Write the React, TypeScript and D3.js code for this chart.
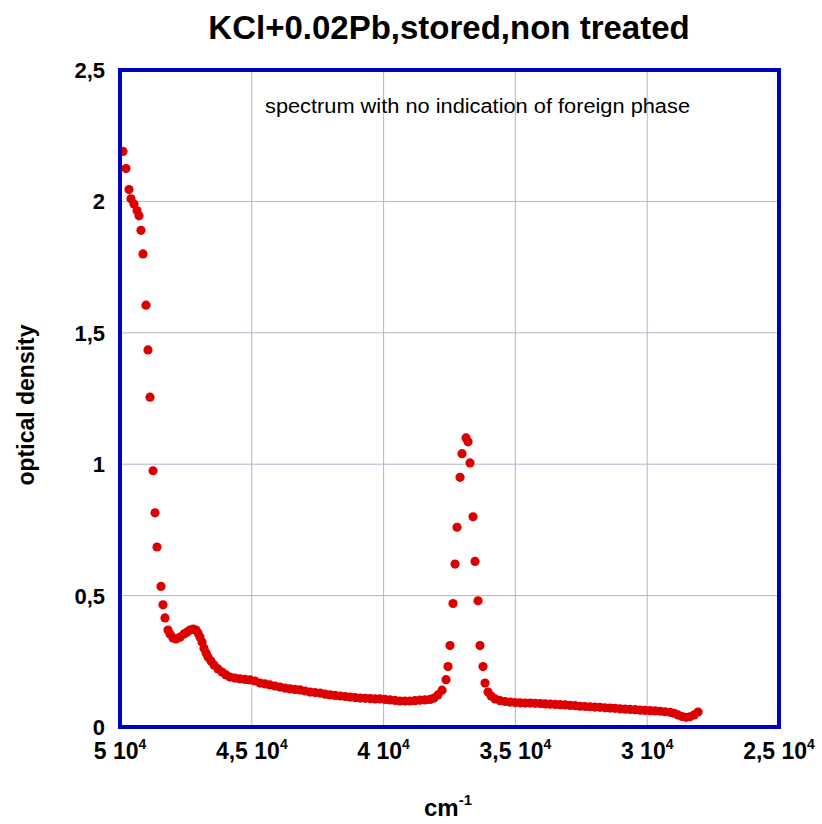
import * as React from "react";
import * as d3 from "d3";

// spectrum readings: wavenumber (cm-1) and optical density
const wavenumber = [
  49886, 49772, 49659, 49583, 49469, 49355, 49279, 49203, 49127, 49014,
  48938, 48862, 48748, 48672, 48596, 48445, 48369, 48293, 48179, 48103,
  47989, 47875, 47724, 47572, 47458, 47344, 47230, 47117, 47041, 46965,
  46889, 46813, 46737, 46661, 46547, 46434, 46282, 46130, 45978, 45827,
  45637, 45447, 45257, 45068, 44878, 44688, 44499,
  44309, 44120, 43930, 43740, 43550, 43360, 43170, 42980, 42790, 42600,
  42410, 42220, 42030, 41840, 41650, 41460, 41270, 41080, 40890, 40700,
  40510, 40320, 40140, 39950, 39760, 39570, 39380, 39190, 39000, 38810,
  38620, 38430, 38240, 38090, 37940,
  37783, 37632, 37556, 37480, 37366, 37290, 37214, 37100, 37025, 36873,
  36797, 36721, 36607, 36531, 36417, 36342, 36228, 36152, 36038,
  35920, 35770, 35580, 35390, 35200, 35010, 34820, 34630, 34440, 34250,
  34060, 33870, 33680, 33490, 33300, 33110, 32920, 32730, 32550, 32360,
  32170, 31980, 31790, 31600, 31410, 31220, 31030, 30840, 30650, 30460,
  30270, 30080, 29890, 29700, 29510, 29320, 29130, 28980, 28830, 28680,
  28530, 28380, 28220, 28070,
];
const density = [
  2.19, 2.125, 2.045, 2.01, 1.99, 1.965, 1.945, 1.89, 1.8, 1.605,
  1.435, 1.255, 0.975, 0.815, 0.685, 0.535, 0.465, 0.415, 0.369, 0.354,
  0.339, 0.335, 0.342, 0.354, 0.361, 0.369, 0.373, 0.369, 0.358, 0.342,
  0.323, 0.3, 0.282, 0.266, 0.251, 0.236, 0.221, 0.209, 0.198, 0.19,
  0.186, 0.183, 0.181, 0.179, 0.175, 0.167, 0.164,
  0.16, 0.156, 0.152, 0.148, 0.145, 0.143, 0.141, 0.137, 0.133, 0.131,
  0.129, 0.125, 0.122, 0.12, 0.118, 0.116, 0.114, 0.112, 0.11, 0.109,
  0.108, 0.107, 0.107, 0.105, 0.103, 0.101, 0.099, 0.099, 0.099, 0.1,
  0.102, 0.103, 0.105, 0.11, 0.122,
  0.14, 0.18, 0.23, 0.31, 0.47, 0.62, 0.76, 0.95, 1.04, 1.1,
  1.085, 1.005, 0.8, 0.63, 0.48, 0.31, 0.23, 0.167, 0.133,
  0.118, 0.107, 0.1, 0.097, 0.095, 0.093, 0.092, 0.091, 0.091, 0.09,
  0.089, 0.088, 0.087, 0.086, 0.085, 0.084, 0.082, 0.081, 0.079, 0.078,
  0.077, 0.076, 0.075, 0.073, 0.072, 0.071, 0.069, 0.068, 0.067, 0.066,
  0.064, 0.063, 0.062, 0.061, 0.06, 0.058, 0.056, 0.052, 0.046, 0.04,
  0.037, 0.039, 0.046, 0.057,
];

const xTicks = [50000, 45000, 40000, 35000, 30000, 25000];
const xTickLabels = ["5", "4,5", "4", "3,5", "3", "2,5"];
const yTicks = [0, 0.5, 1, 1.5, 2, 2.5];
const yTickLabels = ["0", "0,5", "1", "1,5", "2", "2,5"];

const title = "KCl+0.02Pb,stored,non treated";
const note = "spectrum with no indication of foreign phase";

export default function App() {
  const width = 822;
  const height = 824;
  const plot = { left: 120, right: 779, top: 70, bottom: 727 };
  const font = "'Liberation Sans', Arial, sans-serif";

  const x = d3.scaleLinear().domain([50000, 25000]).range([plot.left, plot.right]);
  const y = d3.scaleLinear().domain([0, 2.5]).range([plot.bottom, plot.top]);

  const points = wavenumber.map((w, i) => ({ w, d: density[i] }));

  return (
    <svg
      width={width}
      height={height}
      style={{ position: "absolute", left: 0, top: 0, background: "#fff" }}
      fontFamily={font}
    >
      <text x={449} y={39} textAnchor="middle" fontSize={33} fontWeight="bold" fill="#000">
        {title}
      </text>

      {/* grid */}
      {xTicks.slice(1, -1).map(t => (
        <line key={"gx" + t} x1={x(t)} x2={x(t)} y1={plot.top} y2={plot.bottom} stroke="#b4b4c8" strokeWidth={1} />
      ))}
      {yTicks.slice(1, -1).map(t => (
        <line key={"gy" + t} x1={plot.left} x2={plot.right} y1={y(t)} y2={y(t)} stroke="#b4b4c8" strokeWidth={1} />
      ))}

      <text x={265} y={113} fontSize={20} fill="#000" textLength={425} lengthAdjust="spacingAndGlyphs">
        {note}
      </text>

      {/* data */}
      {points.map((p, i) => (
        <circle key={i} cx={x(p.w)} cy={y(p.d)} r={4.6} fill="#dd0000" />
      ))}

      {/* frame */}
      <rect
        x={plot.left}
        y={plot.top}
        width={plot.right - plot.left}
        height={plot.bottom - plot.top}
        fill="none"
        stroke="#0000c0"
        strokeWidth={4}
      />

      {/* y tick labels */}
      {yTicks.map((t, i) => (
        <text key={"yl" + t} x={105} y={y(t) + 8} textAnchor="end" fontSize={22} fontWeight="bold" fill="#000">
          {yTickLabels[i]}
        </text>
      ))}

      {/* x tick labels */}
      {xTicks.map((t, i) => (
        <text key={"xl" + t} x={x(t)} y={759} textAnchor="middle" fontSize={23} fontWeight="bold" fill="#000">
          {xTickLabels[i] + " 10"}
          <tspan fontSize={14} dy={-10}>4</tspan>
        </text>
      ))}

      <text x={448} y={816} textAnchor="middle" fontSize={24} fontWeight="bold" fill="#000">
        cm
        <tspan fontSize={15} dy={-11}>-1</tspan>
      </text>

      <text
        transform={`translate(34,405) rotate(-90)`}
        textAnchor="middle"
        fontSize={23}
        fontWeight="bold"
        fill="#000"
      >
        optical density
      </text>
    </svg>
  );
}
